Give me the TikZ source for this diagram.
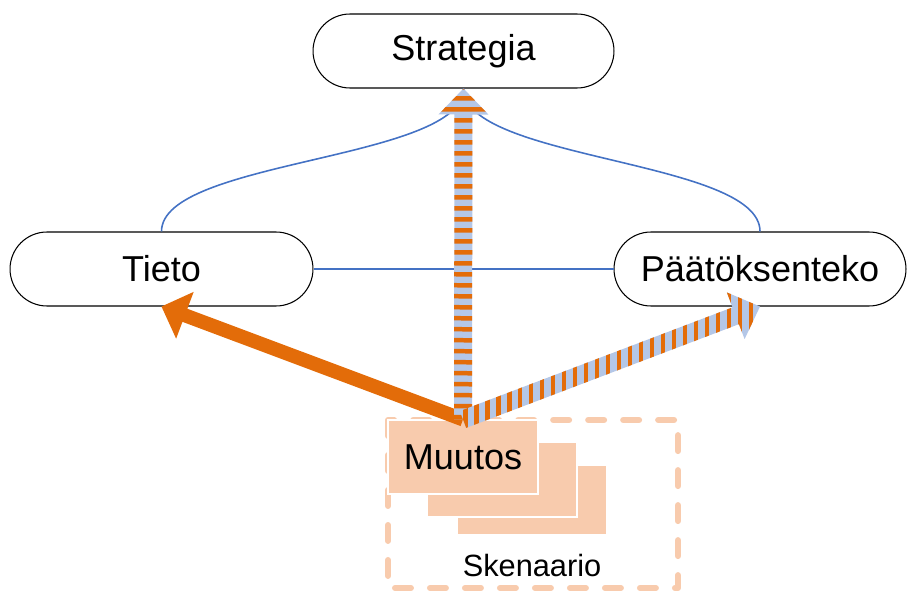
\documentclass[tikz,border=0pt]{standalone}
\usepackage{fontspec}
\setmainfont{Liberation Sans}
\usetikzlibrary{calc}

\definecolor{accentorange}{HTML}{E36C09}
\definecolor{paleblue}{HTML}{B4C7E7}
\definecolor{paleorange}{HTML}{F8CBAD}
\definecolor{lineblue}{HTML}{4472C4}

% block arrow outline: from, to, shaft half width, head half width, head base
\newcommand{\arrowshape}[5]{($(#1)!#3!90:(#2)$) -- ($(#5)!#3!-90:(#1)$) -- ($(#5)!#4!-90:(#1)$) -- (#2) -- ($(#5)!#4!90:(#1)$) -- ($(#5)!#3!90:(#1)$) -- ($(#1)!#3!-90:(#2)$) -- cycle}
% striped arrow: from, to, point giving the direction the stripes run across
\newcommand{\stripedarrow}[3]{%
	\coordinate (hb) at ($(#2)!0.52cm!(#1)$);
	\fill[paleblue] \arrowshape{#1}{#2}{0.18cm}{0.5cm}{hb};
	\begin{scope}
		\clip \arrowshape{#1}{#2}{0.18cm}{0.5cm}{hb};
		\draw[accentorange, line width=7cm, dash pattern=on 0.09cm off 0.13cm] (#1) -- (#3);
	\end{scope}}

\tikzset{
	pill/.style={draw, line width=0.6pt, rounded corners=0.74cm, minimum height=1.48cm, fill=white, font=\fontsize{20.5pt}{24pt}\selectfont},
	blueline/.style={lineblue, line width=0.9pt},
	card/.style={fill=paleorange, draw=white, line width=0.6pt}
}

\begin{document}
\begin{tikzpicture}[x=0.02cm, y=-0.02cm]
	\useasboundingbox (0,0) rectangle (908,591);
	\node [pill, minimum width=6.02cm] (strat) at (463.5,51){Strategia};
	\node [pill, minimum width=6.06cm] (tieto) at (161.5,269){Tieto};
	\node [pill, minimum width=5.84cm] (paat) at (760,269){P\"a\"at\"oksenteko};
	\draw [blueline](tieto.east)--(paat.west);
	\draw [blueline](tieto.north) .. controls +(0,-72) and +(0,72) .. (strat.south);
	\draw [blueline](paat.north) .. controls +(0,-72) and +(0,72) .. (strat.south);
	\draw [paleorange, line width=3.4pt, line cap=round, line join=round, dash pattern=on 0.32cm off 0.38cm](388,420)rectangle(678,588);
	\filldraw [card](457,465)rectangle(607,535);
	\filldraw [card](427,442)rectangle(577,517);
	\node [card, minimum width=3cm, minimum height=1.48cm, font=\fontsize{20.5pt}{24pt}\selectfont] (muutos) at (463,457){Muutos};
	\node [font=\fontsize{17.5pt}{20pt}\selectfont] (sken) at (532,566){Skenaario};
	\coordinate (hbt) at ($(tieto.south)!0.5cm!(muutos.north)$);
	\fill [accentorange] \arrowshape{muutos.north}{tieto.south}{0.14cm}{0.5cm}{hbt};
	\stripedarrow{muutos.north}{strat.south}{strat.south}
	\stripedarrow{muutos.north}{paat.south}{paat.south |- muutos.north}
\end{tikzpicture}
\end{document}
